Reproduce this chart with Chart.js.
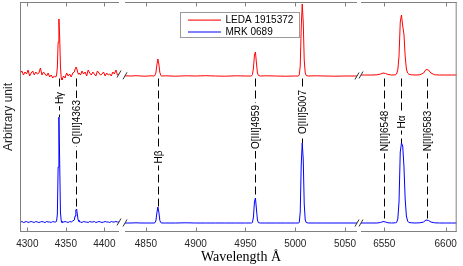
<!DOCTYPE html>
<html>
<head>
<meta charset="utf-8">
<script src="https://cdn.jsdelivr.net/npm/chart.js@4.4.1/dist/chart.umd.min.js"></script>
<style>
  html, body { margin: 0; padding: 0; background: #fff; }
  body { width: 463px; height: 266px; position: relative; overflow: hidden; }
  .pane { position: absolute; top: 0; height: 266px; }
</style>
</head>
<body>
<div class="pane" style="left:0;width:125px"><canvas id="c1"></canvas></div>
<div class="pane" style="left:120px;width:245px"><canvas id="c2"></canvas></div>
<div class="pane" style="left:357px;width:106px"><canvas id="c3"></canvas></div>
<script>
// spectra (arbitrary units, red one is offset upward)
const seriesNames = ["LEDA 1915372", "MRK 0689"];

const wl1 = [4291,4293,4295,4297,4299,4301,4303,4305,4307,4309,4311,4313,4315,4317,4319,4321,4323,4325,4327,4329,4331,4333,4335,4337,
  4338,4339,4340,4341,4342,4343,4344,4345,
  4347,4349,4351,4353,4355,4357,4359,4361,
  4362,4363,4364,4365,4366,4367,
  4369,4371,4373,4375,4377,4379,4381,4383,4385,4387,4389,4391,4393,4395,4397,4399,4401,4403,4405,4407,4409,4411,4413,4415,4417,4419];
const red1 = [15.9,16.1,15.7,16.0,15.8,16.2,15.6,15.9,16.1,15.7,16.0,15.8,15.9,16.4,15.7,16.0,15.8,15.6,15.9,15.5,15.7,15.4,15.6,15.5,
  15.7,16.5,19.0,21.3,19.5,16.6,15.4,15.2,
  15.6,15.4,15.9,15.6,15.8,15.5,15.9,16.0,
  16.3,16.5,16.4,16.1,15.8,15.9,
  15.7,16.1,15.8,16.0,15.6,16.2,15.9,15.7,16.0,15.8,15.6,16.1,15.9,15.7,15.8,16.0,15.6,15.9,15.7,15.8,15.6,16.0,15.8,16.2,15.7,15.8];
const blue1 = [1.0,1.05,0.95,1.0,1.05,0.95,1.0,1.05,1.0,0.95,1.05,1.0,0.95,1.0,1.05,1.0,0.95,1.05,1.0,1.0,0.95,1.05,1.0,1.0,
  1.1,1.8,6.5,11.5,7.0,2.0,1.1,0.95,
  1.0,1.05,1.0,0.95,1.05,1.0,1.1,1.2,
  1.6,2.2,2.3,1.7,1.2,1.05,
  1.0,0.95,1.05,1.0,1.0,0.95,1.05,1.0,1.0,1.05,0.95,1.0,1.05,1.0,0.95,1.0,1.05,1.0,1.0,0.95,1.05,1.0,1.0,1.05,1.0,1.0];

const wl2 = [4829,4835,4840,4845,4850,4855,
  4858,4859,4860,4861,4862,4863,4864,4865,4866,
  4870,4880,4890,4900,4910,4920,4930,4940,4950,4955,
  4956,4957,4958,4959,4960,4961,4962,4963,
  4965,4970,4980,4990,5000,
  5003,5004,5005,5006,5007,5008,5009,5010,5011,
  5013,5020,5030,5040,5050,5062];
const red2 = [15.62,15.6,15.63,15.6,15.58,15.62,
  15.6,15.65,15.9,16.7,17.3,16.8,15.95,15.65,15.6,
  15.62,15.58,15.62,15.6,15.63,15.6,15.58,15.62,15.6,15.6,
  15.6,15.75,16.4,17.7,18.0,16.9,15.9,15.65,
  15.6,15.62,15.6,15.58,15.6,
  15.6,15.7,16.6,20.5,22.8,21.0,17.2,15.9,15.65,
  15.6,15.62,15.6,15.58,15.6,15.6];
const blue2 = [0.9,0.9,0.92,0.9,0.9,0.9,
  0.9,0.92,1.1,1.9,2.5,2.0,1.15,0.93,0.9,
  0.9,0.9,0.92,0.9,0.9,0.9,0.9,0.9,0.9,0.9,
  0.9,0.95,1.5,3.0,3.4,2.3,1.2,0.93,
  0.9,0.9,0.9,0.9,0.9,
  0.9,0.95,2.0,6.8,8.9,7.3,2.8,1.2,0.95,
  0.9,0.9,0.9,0.9,0.9,0.9];

const wl3 = [6531,6535,6540,6544,6547,6549,6551,6553,6556,6559,
  6560,6561,6562,6563,6564,6565,6566,6567,6568,6569,6570,
  6572,6575,6579,6582,6584,6586,6588,6591,6595,6600,6605,6609];
const red3 = [15.7,15.7,15.7,15.72,15.8,15.9,15.85,15.75,15.7,15.72,
  15.8,16.2,17.6,21.0,21.7,20.6,19.8,17.6,16.3,15.9,15.78,
  15.72,15.7,15.72,15.9,16.25,16.2,15.9,15.72,15.7,15.7,15.7,15.7];
const blue3 = [0.9,0.9,0.9,0.9,0.95,1.05,1.0,0.92,0.9,0.92,
  0.95,1.3,3.0,8.0,8.9,8.6,6.6,3.3,1.6,1.1,0.95,
  0.92,0.9,0.92,1.0,1.2,1.15,1.0,0.92,0.9,0.9,0.9,0.9];

const ticks1 = [4300, 4350, 4400];
const ticks2 = [4850, 4900, 4950, 5000, 5050];
const ticks3 = [6550, 6600];

// emission lines marked with dashed lines
const lineNames = ["H\u03b3", "O[III]4363", "H\u03b2", "O[III]4959", "O[III]5007", "N[II]6548", "H\u03b1", "N[II]6583"];
const lineWl = [4341, 4363.5, 4862, 4959.5, 5007, 6550, 6564, 6585];

// where each label sits (y, arbitrary units) and where the dashes start
const labelAt = [13.4, 11.0, 7.5, 10.5, 12.0, 10.1, 11.0, 10.1];
const dashTop = 15.35;

const SANS = '"Liberation Sans", Arial, sans-serif';
const FRAME = '#808080';

function peakNear(data, w) {
  let m = -Infinity;
  data.forEach(p => { if (Math.abs(p.x - w) <= 1.5 && p.y > m) m = p.y; });
  return m;
}

// one plugin per panel, settings kept in the closure
function decor(o) {
  return {
    id: 'decor',
    afterDraw(chart) {
      const ctx = chart.ctx, a = chart.chartArea, x = chart.scales.x, y = chart.scales.y;
      const blue = chart.data.datasets[1].data;
      ctx.save();

      // dashed marker lines + rotated labels
      ctx.font = '10px ' + SANS;
      lineWl.forEach((w, i) => {
        if (w < x.min || w > x.max) return;
        const px = Math.round(x.getPixelForValue(w)) + 0.5;
        ctx.strokeStyle = '#000';
        ctx.lineWidth = 1;
        ctx.setLineDash([8, 4]);
        ctx.beginPath();
        ctx.moveTo(px, y.getPixelForValue(dashTop));
        ctx.lineTo(px, y.getPixelForValue(peakNear(blue, w)));
        ctx.stroke();
        ctx.setLineDash([]);
        ctx.save();
        ctx.translate(px, y.getPixelForValue(labelAt[i]));
        ctx.rotate(-Math.PI / 2);
        const tw = ctx.measureText(lineNames[i]).width;
        ctx.fillStyle = '#fff';
        ctx.fillRect(-tw / 2 - 2, -6, tw + 4, 12);
        ctx.fillStyle = '#000';
        ctx.textAlign = 'center';
        ctx.textBaseline = 'middle';
        ctx.fillText(lineNames[i], 0, 0.5);
        ctx.restore();
      });

      // axis break marks on the spectra
      ctx.strokeStyle = '#333';
      ctx.lineWidth = 1;
      chart.data.datasets.forEach(ds => {
        const ends = [];
        if (o.breakLeft) ends.push([a.left, ds.data[0].y]);
        if (o.breakRight) ends.push([a.right, ds.data[ds.data.length - 1].y]);
        ends.forEach(([ex, v]) => {
          const ey = y.getPixelForValue(v);
          ctx.beginPath();
          ctx.moveTo(ex - 2, ey + 3.5);
          ctx.lineTo(ex + 2, ey - 3.5);
          ctx.stroke();
        });
      });

      // box and inward ticks
      ctx.strokeStyle = FRAME;
      const t = a.top + 0.5, b = a.bottom - 0.5, l = a.left + 0.5, r = a.right - 0.5;
      ctx.beginPath();
      ctx.moveTo(a.left, t); ctx.lineTo(a.right, t);
      ctx.moveTo(a.left, b); ctx.lineTo(a.right, b);
      if (o.frameLeft) { ctx.moveTo(l, a.top); ctx.lineTo(l, a.bottom); }
      if (o.frameRight) { ctx.moveTo(r, a.top); ctx.lineTo(r, a.bottom); }
      x.ticks.forEach(tk => {
        const px = Math.round(x.getPixelForValue(tk.value)) + 0.5;
        ctx.moveTo(px, b); ctx.lineTo(px, b - 4);
        ctx.moveTo(px, t); ctx.lineTo(px, t + 4);
      });
      ctx.stroke();

      // legend
      if (o.legend) {
        const bx = Math.round(a.left + 55) + 0.5, by = 12.5;
        ctx.fillStyle = '#fff';
        ctx.fillRect(bx, by, 119, 25);
        ctx.strokeStyle = '#999';
        ctx.lineWidth = 1;
        ctx.strokeRect(bx, by, 119, 25);
        ctx.font = '10px ' + SANS;
        ctx.textBaseline = 'middle';
        ctx.textAlign = 'left';
        const legendColors = ['#ff2020', '#8080ff'];
        chart.data.datasets.forEach((ds, i) => {
          const ly = Math.round(by + 7 + i * 12);
          ctx.fillStyle = legendColors[i];
          ctx.fillRect(Math.round(bx + 7), ly - (i ? 1 : 0.5), 33, i ? 2 : 1.2);
          ctx.fillStyle = '#000';
          ctx.fillText(ds.label, bx + 45, ly + 0.5);
        });
      }
      ctx.restore();
    }
  };
}

function panel(id, wl, red, blue, ticks, xmin, xmax, pad, o) {
  const pts = vals => wl.map((w, i) => ({ x: w, y: vals[i] }));
  return new Chart(document.getElementById(id), {
    type: 'line',
    data: {
      datasets: [
        { label: seriesNames[0], data: pts(red), borderColor: '#ff0000', borderWidth: 1, pointRadius: 0, tension: 0 },
        { label: seriesNames[1], data: pts(blue), borderColor: '#0000ff', borderWidth: 1, pointRadius: 0, tension: 0 }
      ]
    },
    options: {
      responsive: true,
      maintainAspectRatio: false,
      animation: false,
      events: [],
      layout: { padding: pad },
      plugins: { legend: { display: false }, tooltip: { enabled: false } },
      scales: {
        x: {
          type: 'linear', min: xmin, max: xmax,
          afterBuildTicks: s => { s.ticks = ticks.map(v => ({ value: v })); },
          afterFit: s => { s.height = 34; },
          grid: { display: false, drawTicks: false, tickLength: 0 },
          border: { display: false },
          ticks: { font: { size: 10, family: SANS }, color: '#262626', padding: 6, maxRotation: 0, callback: v => String(v) },
          title: {
            display: !!o.xTitle, text: 'Wavelength \u00c5', color: '#000',
            font: { size: 14, family: '"Liberation Serif", "DejaVu Serif", serif' }, padding: 0
          }
        },
        y: {
          display: !!o.yTitle, min: 0, max: 23,
          afterFit: s => { s.width = o.yTitle ? 20 : 0; },
          grid: { display: false },
          border: { display: false },
          ticks: { display: false },
          title: { display: true, text: 'Arbitrary unit', color: '#262626', font: { size: 12, family: SANS }, padding: 1 }
        }
      }
    },
    plugins: [decor(o)]
  });
}

panel('c1', wl1, red1, blue1, ticks1, 4290.5, 4419, { top: 2, left: 0, right: 6, bottom: 0 },
  { frameLeft: true, breakRight: true, yTitle: true });
panel('c2', wl2, red2, blue2, ticks2, 4829, 5062, { top: 2, left: 5, right: 8, bottom: 0 },
  { breakLeft: true, breakRight: true, legend: true, xTitle: true });
panel('c3', wl3, red3, blue3, ticks3, 6531, 6609, { top: 2, left: 4, right: 2, bottom: 0 },
  { frameRight: true, breakLeft: true });
</script>
</body>
</html>
